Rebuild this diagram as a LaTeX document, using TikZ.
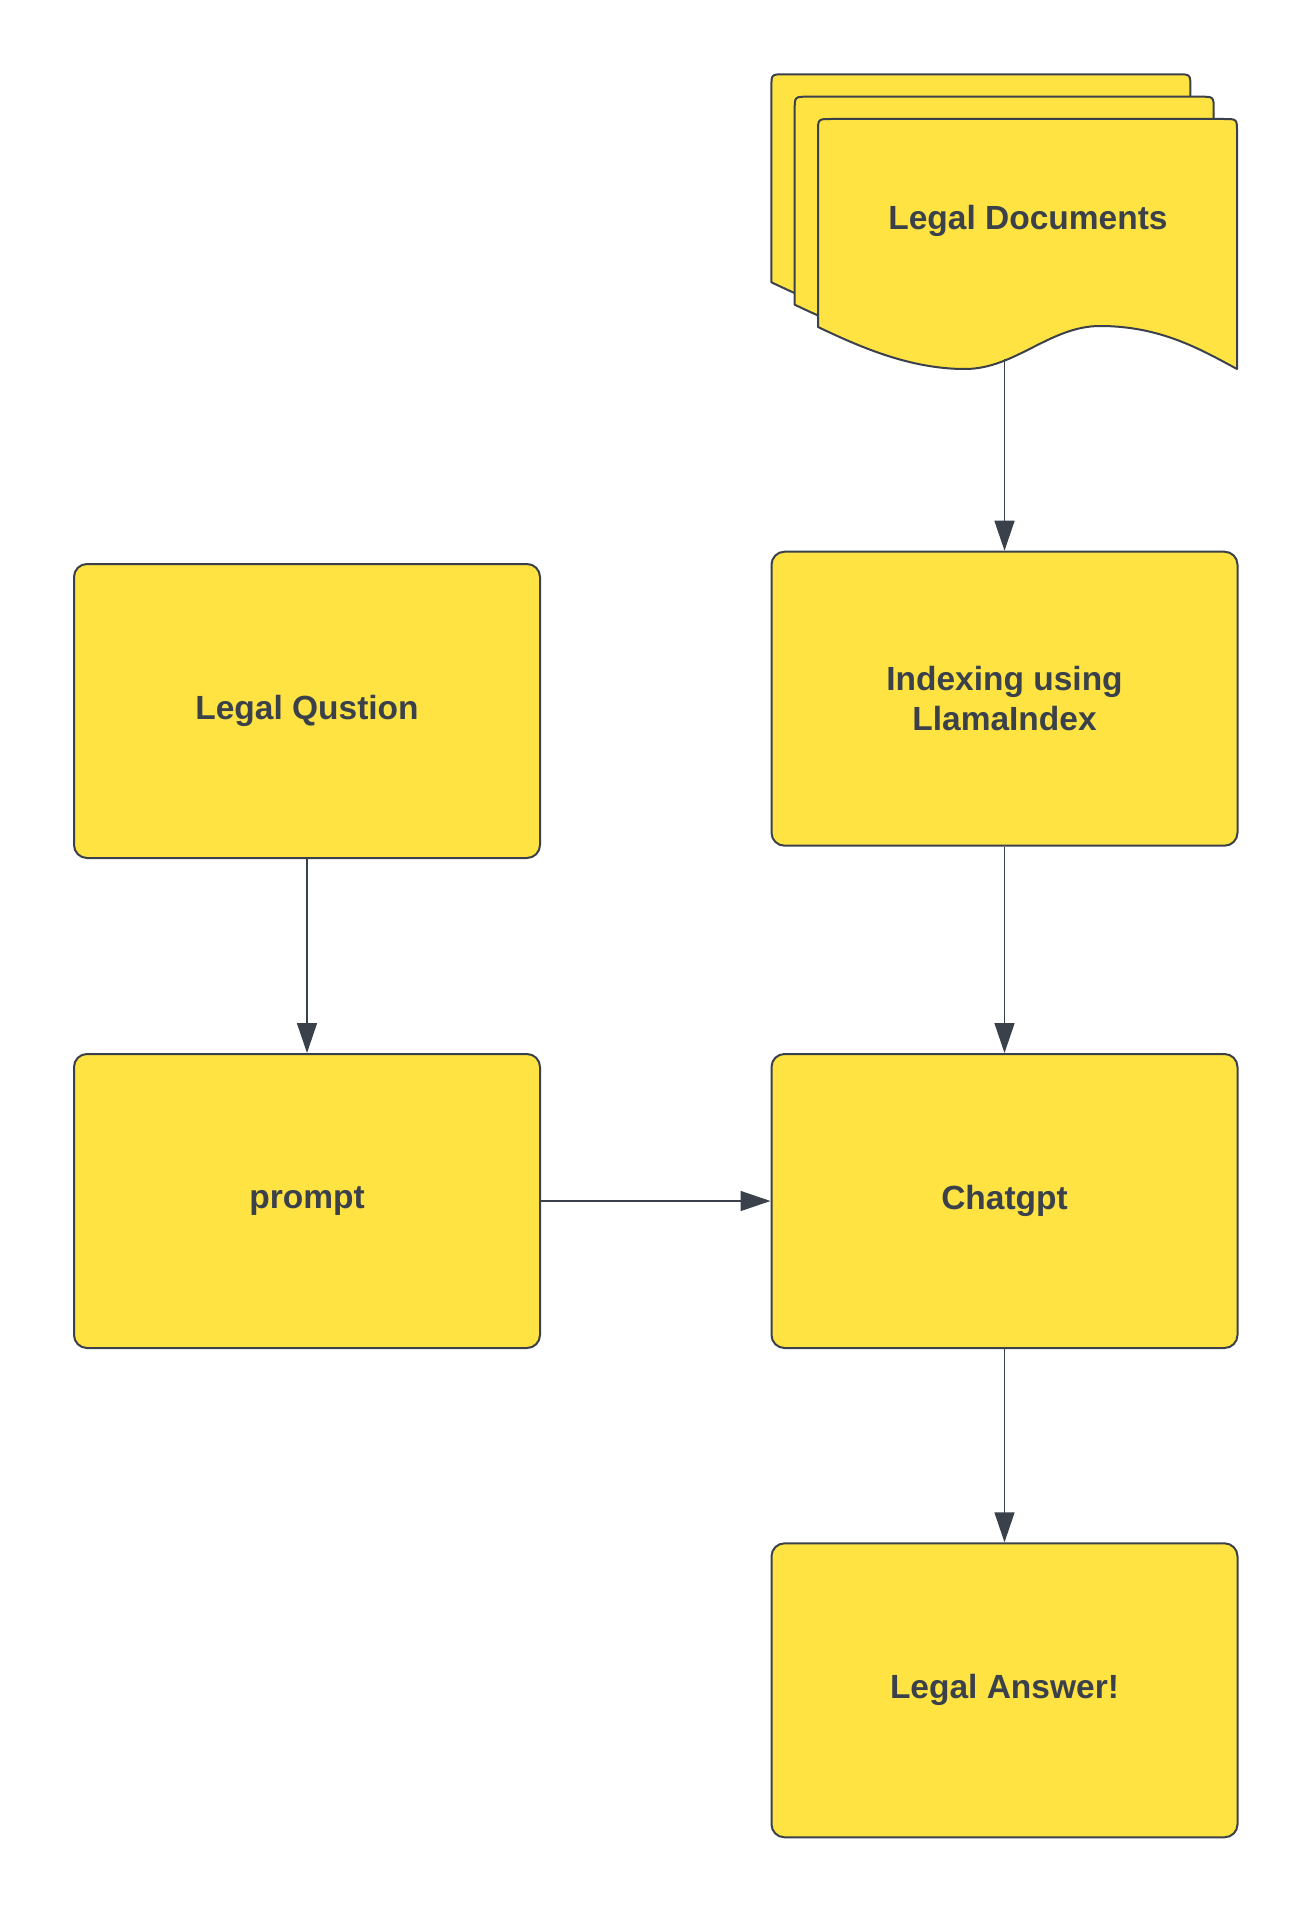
\documentclass[tikz,border=0pt]{standalone}
\usepackage{fontspec}
\setmainfont{Liberation Sans}
\usetikzlibrary{arrows.meta}
\definecolor{boxfill}{HTML}{FFE342}
\definecolor{ink}{HTML}{3A414A}
\tikzset{
  box/.style={draw=ink, fill=boxfill, line width=2pt, rounded corners=13pt,
    minimum width=466pt, minimum height=294pt, inner sep=0pt,
    font=\bfseries\fontsize{33.5}{40}\selectfont, text=ink, align=center},
  docpage/.style={draw=ink, fill=boxfill, line width=2pt, line join=round},
  conn/.style={draw=ink, line width=1.5pt, -{Triangle[length=30pt,width=20pt]}},
  doclabel/.style={font=\bfseries\fontsize{33.5}{40}\selectfont, text=ink}
}
\newcommand{\docpagepath}{%
  (818,327) -- (818,132) .. controls (818,119) .. (831,119)
  -- (1224,119) .. controls (1237,119) .. (1237,132)
  -- (1237,369)
  .. controls (1200,349) and (1160,326) .. (1100,326)
  .. controls (1050,326) and (1015,369) .. (965,369)
  .. controls (910,369) and (860,347) .. (818,327) -- cycle}
\begin{document}
\begin{tikzpicture}[x=1pt,y=-1pt]
\useasboundingbox (0,0) rectangle (1313,1913);
% stacked documents
\begin{scope}[shift={(-46.6,-44.7)}]
  \path[docpage] \docpagepath;
\end{scope}
\begin{scope}[shift={(-23.3,-22.3)}]
  \path[docpage] \docpagepath;
\end{scope}
\path[docpage] \docpagepath;
\node[doclabel] (docs) at (1028,221) {Legal Documents};
\coordinate (docbot) at (1004.5,359);
% boxes
\node[box] (question) at (307,711) {Legal Qustion};
\node[box] (prompt) at (307,1201) {prompt};
\node[box] (index) at (1004.5,698.7) {Indexing using\\LlamaIndex};
\node[box] (chat) at (1004.5,1201) {Chatgpt};
\node[box] (answer) at (1004.5,1690.3) {Legal Answer!};
% connectors
\draw[conn] (docbot) -- (index);
\draw[conn] (question) -- (prompt);
\draw[conn] (index) -- (chat);
\draw[conn] (prompt) -- (chat);
\draw[conn] (chat) -- (answer);
\end{tikzpicture}
\end{document}
